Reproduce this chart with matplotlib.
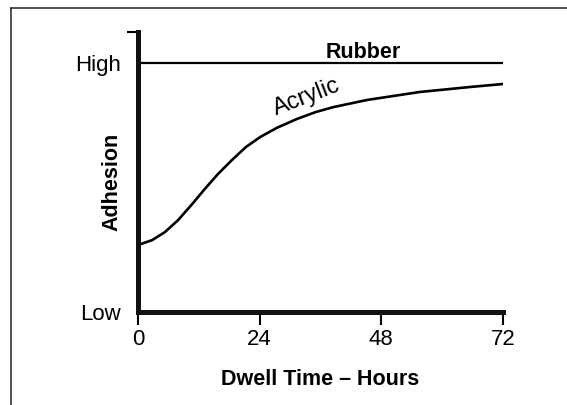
import matplotlib
matplotlib.use('Agg')
import matplotlib.pyplot as plt
from matplotlib.lines import Line2D

plt.rcParams['font.family'] = ['Liberation Sans', 'DejaVu Sans']

# data (adhesion: 0 = Low, 1 = High)
hours = [0, 2.8, 5.3, 7.9, 10.7, 13.2, 15.8, 18.5, 21.3, 24.1, 27.4, 31.4,
         35.0, 38.5, 45.2, 55.6, 65.5, 72]
acrylic = [0.269, 0.289, 0.321, 0.369, 0.434, 0.495, 0.555, 0.610, 0.663, 0.703,
           0.740, 0.776, 0.803, 0.823, 0.852, 0.884, 0.904, 0.916]
rubber_x = [0, 72]
rubber = [1.0, 1.0]
xticks = [0, 24, 48, 72]
ylevels = [0, 1]
ylabels = ['Low', 'High']

fig = plt.figure(figsize=(5.67, 4.05), dpi=100)
ax = fig.add_axes([0.2434, 0.2296, 0.6437, 0.6914])

ax.plot(rubber_x, rubber, 'k-', lw=1.6, solid_capstyle='butt')
ax.plot(hours, acrylic, 'k-', lw=1.9, solid_capstyle='round', solid_joinstyle='round')

ax.set_xlim(0, 72)
ax.set_ylim(0, 1.125)
for s in ['top', 'right']:
    ax.spines[s].set_visible(False)
for s in ['left', 'bottom']:
    ax.spines[s].set_linewidth(3.6)
    ax.spines[s].set_color('#111111')
    ax.spines[s].set_capstyle('projecting')

ax.set_xticks(xticks)
ax.set_xticklabels([str(t) for t in xticks])
ax.tick_params(axis='x', direction='out', length=9, width=1.5, pad=3, labelsize=16)
ax.set_yticks(ylevels)
ax.set_yticklabels(ylabels)
ax.tick_params(axis='y', length=0, pad=12, labelsize=16)
ax.set_yticks([1.125], minor=True)
ax.tick_params(axis='y', which='minor', length=8, width=1.5, direction='out')

ax.set_xlabel('Dwell Time \u2013 Hours', fontsize=15.5, fontweight='bold', va='top')
ax.xaxis.set_label_coords(0.5, -0.2035)
ax.set_ylabel('Adhesion', fontsize=15.5, fontweight='bold', va='center')
ax.yaxis.set_label_coords(-0.071, 0.464)

ax.text(44.4, 1.044, 'Rubber', fontsize=15.5, fontweight='bold', ha='center', va='center')
ax.text(33.3, 0.863, 'Acrylic', fontsize=17, rotation=21, ha='center', va='center',
        rotation_mode='anchor')

# outer frame (left and top edges only are visible)
fig.add_artist(Line2D([0.0194, 0.0194], [0.0, 0.980], color='#222222', lw=1.1))
fig.add_artist(Line2D([0.0194, 1.0], [0.980, 0.980], color='#222222', lw=1.1))

fig.savefig('out.png', dpi=100)
